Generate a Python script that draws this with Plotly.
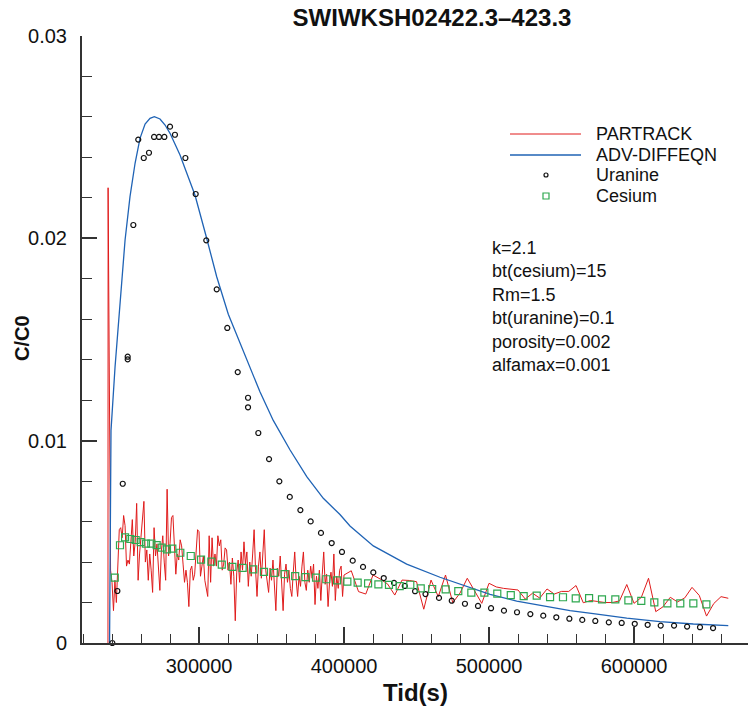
import plotly.graph_objects as go

# --- data (t in seconds, C/C0) ---

# PARTRACK: initial spike, dense part (1000 s steps), sparse part (5000 s steps)
red_spike_t = [237200, 237300]
red_spike_c = [0.0, 0.0225]

red_dense_t0, red_dense_step = 239000, 1000
red_dense_c = [
    0.0036, 0.0030, 0.0016, 0.0031, 0.0020, 0.0043, 0.0056, 0.0057, 0.0052, 0.0063,
    0.0058, 0.0038, 0.0041, 0.0039, 0.0053, 0.0061, 0.0043, 0.0050, 0.0069, 0.0031,
    0.0044, 0.0053, 0.0061, 0.0070, 0.0040, 0.0046, 0.0031, 0.0044, 0.0036, 0.0025,
    0.0057, 0.0043, 0.0049, 0.0038, 0.0026, 0.0045, 0.0053, 0.0040, 0.0031, 0.0076,
    0.0043, 0.0049, 0.0062, 0.0063, 0.0050, 0.0034, 0.0044, 0.0041, 0.0051, 0.0048,
    0.0039, 0.0030, 0.0036, 0.0030, 0.0018, 0.0036, 0.0038, 0.0031, 0.0034, 0.0043,
    0.0056, 0.0055, 0.0033, 0.0038, 0.0043, 0.0031, 0.0027, 0.0023, 0.0053, 0.0030,
    0.0052, 0.0038, 0.0044, 0.0038, 0.0053, 0.0048, 0.0051, 0.0036, 0.0039, 0.0047,
    0.0046, 0.0036, 0.0040, 0.0029, 0.0042, 0.0033, 0.0011, 0.0035, 0.0041, 0.0030,
    0.0045, 0.0036, 0.0050, 0.0039, 0.0045, 0.0028, 0.0040, 0.0033, 0.0044, 0.0056,
    0.0036, 0.0023, 0.0038, 0.0045, 0.0032, 0.0042, 0.0056, 0.0036, 0.0030, 0.0025,
    0.0037, 0.0031, 0.0041, 0.0028, 0.0016, 0.0037, 0.0033, 0.0043, 0.0029, 0.0016,
    0.0034, 0.0039, 0.0030, 0.0036, 0.0027, 0.0023, 0.0035, 0.0045, 0.0031, 0.0023,
    0.0033, 0.0028, 0.0038, 0.0045, 0.0030, 0.0026, 0.0036, 0.0030, 0.0038, 0.0032,
    0.0039, 0.0019, 0.0033, 0.0027, 0.0036, 0.0021, 0.0034, 0.0045, 0.0029, 0.0034,
    0.0018, 0.0030, 0.0035, 0.0028, 0.0044, 0.0021, 0.0033, 0.0027, 0.0036, 0.0038,
    0.0023,
]

red_sparse_t0, red_sparse_step = 400000, 5000
red_sparse_c = [
    0.00336, 0.00357, 0.00254, 0.00242, 0.00336, 0.00316, 0.00292, 0.00237, 0.00311, 0.00309,
    0.00303, 0.00167, 0.00311, 0.00229, 0.00336, 0.00199, 0.00247, 0.00320, 0.00257, 0.00196,
    0.00295, 0.00277, 0.00270, 0.00267, 0.00262, 0.00217, 0.00246, 0.00222, 0.00267, 0.00242,
    0.00255, 0.00255, 0.00284, 0.00199, 0.00210, 0.00205, 0.00200, 0.00200, 0.00208, 0.00289,
    0.00196, 0.00225, 0.00320, 0.00155, 0.00179, 0.00226, 0.00203, 0.00223, 0.00275, 0.00235,
    0.00133, 0.00195, 0.00229, 0.00221,
]

# ADV-DIFFEQN
blue_t = [238300, 239300, 242100, 245500, 249000, 252400, 255900, 259300, 262800, 266200,
          269200, 273100, 276600, 280000, 283400, 286900, 290300, 297200, 305000, 312200,
          320200, 328300, 335200, 342100, 351200, 362800, 374300, 385700, 397200, 404100,
          420200, 443200, 466200, 484600, 500700, 519100, 555900, 571900, 595000, 617900,
          640900, 665000]
blue_c = [0.0, 0.0105, 0.01365, 0.01695, 0.01992, 0.02206, 0.02371, 0.02494, 0.02565, 0.02593,
          0.02601, 0.0259, 0.0256, 0.02519, 0.0247, 0.02412, 0.02346, 0.02214, 0.02008, 0.0181,
          0.01625, 0.0148, 0.0136, 0.0124, 0.0110, 0.00954, 0.00822, 0.00715, 0.00635, 0.00578,
          0.00480, 0.00390, 0.00325, 0.00280, 0.00240, 0.00207, 0.00160, 0.00145, 0.00123, 0.00106,
          0.00094, 0.00086]

# Uranine measurements
uranine_t = [240200, 243700, 247400, 250800, 250800, 254700, 258100, 261900, 265500, 269000,
             272400, 276100, 280000, 283400, 290600, 297700, 305000, 312200, 319500, 326700,
             333800, 333800, 340900, 348300, 355400, 362600, 369900, 377000, 384100, 391500,
             398600, 406000, 413100, 420200, 427400, 434500, 441900, 449000, 456200, 465500,
             474300, 483400, 492400, 501400, 510300, 519300, 528500, 537400, 546400, 555400,
             564300, 573300, 582600, 591500, 600500, 609400, 618400, 627600, 636600, 645500,
             654500]
uranine_c = [0.0, 0.00257, 0.00787, 0.01415, 0.01402, 0.02066, 0.02488, 0.02397, 0.02423, 0.02501,
             0.02501, 0.02501, 0.02552, 0.02512, 0.02397, 0.02219, 0.0199, 0.01748, 0.01557, 0.01339,
             0.01212, 0.01165, 0.01038, 0.00909, 0.00799, 0.00722, 0.00657, 0.00601, 0.00544, 0.00494,
             0.0045, 0.00407, 0.00376, 0.00349, 0.00321, 0.00297, 0.00282, 0.00256, 0.00242, 0.00223,
             0.00209, 0.00194, 0.00183, 0.00172, 0.0016, 0.00152, 0.00143, 0.00135, 0.00127, 0.0012,
             0.00114, 0.00109, 0.00102, 0.00099, 0.00095, 0.0009, 0.00086, 0.00086, 0.00081, 0.00078,
             0.00074]

# Cesium measurements
cesium_t = [241900, 245500, 249000, 252600, 256300, 259800, 263400, 267100, 270800, 274300,
            277900, 281600, 287100, 294300, 301400, 308500, 315700, 323000, 330100, 337400,
            344800, 351900, 359000, 366300, 373400, 380700, 387800, 395200, 402300, 409400,
            416600, 423700, 431000, 438400, 445700, 452900, 460800, 470100, 478800, 487800,
            496800, 505700, 515000, 523900, 532900, 542100, 551000, 559800, 569000, 577900,
            587100, 596100, 605000, 614000, 623000, 631900, 640900, 649900]
cesium_c = [0.00323, 0.00483, 0.00522, 0.00514, 0.00509, 0.00499, 0.00491, 0.00491, 0.00484, 0.00471,
            0.00463, 0.00466, 0.00446, 0.0043, 0.00412, 0.00402, 0.00387, 0.00376, 0.00371, 0.00364,
            0.00352, 0.00347, 0.0034, 0.00331, 0.00326, 0.00323, 0.00315, 0.0031, 0.00303, 0.00298,
            0.00295, 0.0029, 0.00287, 0.00281, 0.00288, 0.0027, 0.00267, 0.00265, 0.00256, 0.00249,
            0.00249, 0.00244, 0.00237, 0.00232, 0.00234, 0.00227, 0.00226, 0.00221, 0.00222, 0.00216,
            0.00216, 0.00211, 0.00208, 0.00201, 0.00196, 0.00196, 0.00196, 0.00191]

y_ticks = [0, 0.01, 0.02, 0.03]
y_ticklabels = ["0", "0.01", "0.02", "0.03"]
x_ticks = [300000, 400000, 500000, 600000]

params = ["k=2.1", "bt(cesium)=15", "Rm=1.5", "bt(uranine)=0.1", "porosity=0.002", "alfamax=0.001"]

# assemble the PARTRACK trace
red_t = list(red_spike_t)
red_t += [red_dense_t0 + i * red_dense_step for i in range(len(red_dense_c))]
red_t += [red_sparse_t0 + i * red_sparse_step for i in range(len(red_sparse_c))]
red_c = red_spike_c + red_dense_c + red_sparse_c

FONT = "Liberation Sans, Arial, sans-serif"
AXIS = "#333333"
RED, BLUE, BLACK, GREEN = "#e01b1b", "#1f63b5", "#111111", "#2ea84f"

W, H = 748, 711
ML, MR, MT, MB = 82, 0, 36, 68
PW, PH = W - ML - MR, H - MT - MB


def px(x):  # pixel column -> paper x
    return (x - ML) / PW


def py(y):  # pixel row -> paper y
    return (H - MB - y) / PH


fig = go.Figure()
fig.add_trace(go.Scatter(x=red_t, y=red_c, mode="lines", name="PARTRACK",
                         line=dict(color=RED, width=1)))
fig.add_trace(go.Scatter(x=blue_t, y=blue_c, mode="lines", name="ADV-DIFFEQN",
                         line=dict(color=BLUE, width=1.3)))
fig.add_trace(go.Scatter(x=uranine_t, y=uranine_c, mode="markers", name="Uranine",
                         cliponaxis=False,
                         marker=dict(symbol="circle-open", size=5, color=BLACK,
                                     line=dict(width=1.2, color=BLACK))))
fig.add_trace(go.Scatter(x=cesium_t, y=cesium_c, mode="markers", name="Cesium",
                         marker=dict(symbol="square-open", size=7, color=GREEN,
                                     line=dict(width=1.2, color=GREEN))))

# legend drawn in the style of the original (long line samples, tight rows)
legend_rows = [134, 155, 175, 196]
for name, row in zip(["PARTRACK", "ADV-DIFFEQN", "Uranine", "Cesium"], legend_rows):
    fig.add_annotation(text=name, xref="paper", yref="paper", x=px(594), y=py(row),
                       xanchor="left", yanchor="middle", showarrow=False,
                       font=dict(family=FONT, size=18, color=BLACK))
fig.add_shape(type="line", xref="paper", yref="paper", x0=px(510), x1=px(581),
              y0=py(legend_rows[0]), y1=py(legend_rows[0]), line=dict(color=RED, width=1))
fig.add_shape(type="line", xref="paper", yref="paper", x0=px(510), x1=px(581),
              y0=py(legend_rows[1]), y1=py(legend_rows[1]), line=dict(color=BLUE, width=1.3))
fig.add_shape(type="circle", xref="paper", yref="paper", x0=px(544), x1=px(548),
              y0=py(legend_rows[2] + 2), y1=py(legend_rows[2] - 2), line=dict(color=BLACK, width=1.2))
fig.add_shape(type="rect", xref="paper", yref="paper", x0=px(543), x1=px(549),
              y0=py(legend_rows[3] + 3), y1=py(legend_rows[3] - 3), line=dict(color=GREEN, width=1.2))

fig.add_annotation(text="<br>".join(params), xref="paper", yref="paper",
                   x=px(490), y=py(236), xanchor="left", yanchor="top", align="left",
                   showarrow=False, font=dict(family=FONT, size=18, color=BLACK))

# axis titles
fig.add_annotation(text="<b>Tid(s)</b>", xref="paper", yref="paper", x=0.5, y=py(692),
                   xanchor="center", yanchor="middle", showarrow=False,
                   font=dict(family=FONT, size=24, color=BLACK))
fig.add_annotation(text="<b>C/C0</b>", xref="paper", yref="paper", x=px(22), y=py(338),
                   xanchor="center", yanchor="middle", textangle=-90, showarrow=False,
                   font=dict(family=FONT, size=20, color=BLACK))

fig.update_layout(
    width=W,
    height=H,
    margin=dict(l=ML, r=MR, t=MT, b=MB, autoexpand=False),
    plot_bgcolor="white",
    paper_bgcolor="white",
    font=dict(family=FONT, size=20, color=BLACK),
    title=dict(text="<b>SWIWKSH02422.3–423.3</b>", x=432 / W, xanchor="center",
               y=1 - 18 / H, yanchor="middle", font=dict(family=FONT, size=24)),
    showlegend=False,
    xaxis=dict(
        range=[219300, 678600], tickvals=x_ticks, ticktext=[str(v) for v in x_ticks],
        ticks="inside", ticklen=16, tickwidth=1.5, tickcolor=AXIS,
        minor=dict(dtick=20000, tick0=0, ticks="inside", ticklen=9, tickwidth=1, tickcolor=AXIS),
        showline=True, linecolor=AXIS, linewidth=2, showgrid=False, zeroline=False,
        ticklabelstandoff=4, automargin=False,
    ),
    yaxis=dict(
        range=[0, 0.03], tickvals=y_ticks, ticktext=y_ticklabels,
        ticks="inside", ticklen=15, tickwidth=1.5, tickcolor=AXIS,
        minor=dict(dtick=0.002, tick0=0, ticks="inside", ticklen=10, tickwidth=1, tickcolor=AXIS),
        showline=True, linecolor=AXIS, linewidth=2, showgrid=False, zeroline=False,
        ticklabelstandoff=9, automargin=False,
    ),
)

# the page's default 8px body margin would push the figure off the window
fig.write_html("out.html", config={"displayModeBar": False},
               post_script="document.body.style.margin='0';")
